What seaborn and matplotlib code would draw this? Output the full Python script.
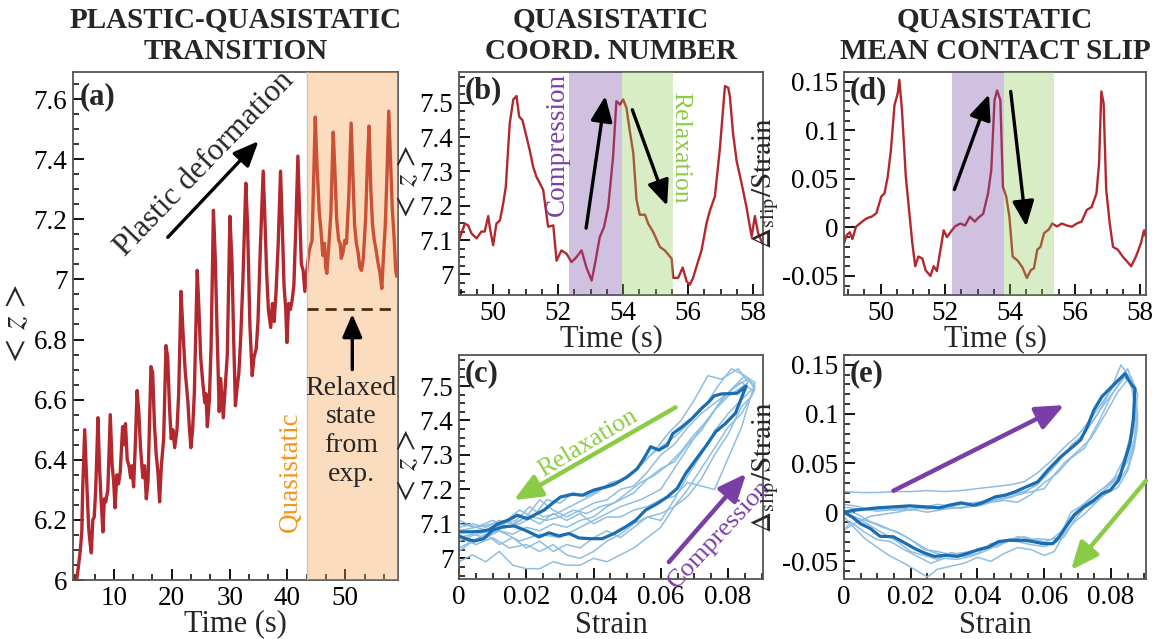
import matplotlib
matplotlib.use('Agg')
import matplotlib.pyplot as plt
import seaborn as sns
from matplotlib.ticker import MultipleLocator, AutoMinorLocator, FuncFormatter

sns.set_style('ticks')
plt.rcParams['font.family'] = ['Liberation Serif', 'DejaVu Serif']
plt.rcParams['mathtext.fontset'] = 'stix'
plt.rcParams['axes.unicode_minus'] = False

# ---- (a) coordination number over the whole run ----
time_a = [3.5, 3.9, 4.2, 4.45, 4.6, 4.95, 5.15, 5.4, 5.65, 5.9,
          6.1, 6.35, 6.6, 6.85, 7.25, 7.5, 7.8, 8.1, 8.35, 8.6,
          8.95, 9.37, 9.7, 9.95, 10.2, 10.5, 10.8, 11.1, 11.5, 11.75,
          12.0, 12.3, 12.6, 12.9, 13.1, 13.4, 13.7, 14.0, 14.3, 14.6,
          15.0, 15.3, 15.6, 15.9, 16.2, 16.4, 16.7, 17.0, 17.3, 17.6,
          17.9, 18.2, 18.6, 19.0, 19.3, 19.6, 19.9, 20.2, 20.5, 20.9,
          21.2, 21.6, 21.9, 22.3, 22.8, 23.0, 23.3, 23.6, 23.9, 24.4,
          24.7, 25.0, 25.3, 25.7, 25.9, 26.15, 26.5, 26.8, 27.2, 27.5,
          27.8, 28.2, 28.45, 28.9, 29.3, 29.6, 30.05, 30.4, 30.7, 31.0,
          31.3, 31.6, 31.9, 32.3, 32.8, 33.1, 33.5, 33.9, 34.2, 34.6,
          34.9, 35.3, 35.8, 36.1, 36.4, 36.7, 37.1, 37.4, 37.7, 38.0,
          38.4, 38.8, 39.1, 39.4, 39.7, 39.9, 40.2, 40.5, 40.8, 41.1,
          41.4, 41.8, 42.1, 42.4, 42.7, 43.0, 43.4, 43.8, 44.25, 44.8,
          45.1, 45.5, 45.8, 46.1, 46.4, 46.6, 46.8, 47.1, 47.5, 47.9,
          48.2, 48.5, 48.85, 49.1, 49.3, 49.6, 49.9, 50.2, 50.6, 51.0,
          51.3, 51.6, 51.9, 52.2, 52.5, 52.8, 53.1, 53.5, 53.8, 54.1,
          54.4, 54.7, 55.0, 55.3, 55.6, 56.0, 56.3, 56.6, 56.9, 57.2,
          57.5, 57.8, 58.1, 58.45, 58.7, 58.9, 59.2]
z_a = [5.99, 6.05, 6.10, 6.16, 6.30, 6.50, 6.40, 6.28, 6.17, 6.12,
       6.09, 6.20, 6.21, 6.30, 6.54, 6.38, 6.26, 6.16, 6.27, 6.26,
       6.30, 6.55, 6.38, 6.33, 6.24, 6.35, 6.32, 6.36, 6.51, 6.45,
       6.52, 6.40, 6.38, 6.34, 6.38, 6.31, 6.45, 6.63, 6.56, 6.44,
       6.34, 6.38, 6.27, 6.33, 6.55, 6.71, 6.69, 6.52, 6.42, 6.36,
       6.26, 6.38, 6.47, 6.78, 6.74, 6.58, 6.47, 6.50, 6.44, 6.50,
       6.62, 6.96, 6.84, 6.70, 6.59, 6.52, 6.44, 6.50, 6.62, 7.03,
       6.90, 6.74, 6.67, 6.59, 6.62, 6.51, 6.60, 6.78, 7.23, 7.08,
       6.85, 6.56, 6.67, 6.54, 6.66, 6.75, 7.21, 7.06, 6.80, 6.58,
       6.64, 6.69, 6.80, 7.00, 7.32, 7.18, 6.85, 6.68, 6.74, 6.77,
       6.86, 7.10, 7.36, 7.20, 7.02, 6.90, 6.84, 6.92, 6.86, 6.95,
       7.12, 7.36, 7.18, 6.98, 6.90, 6.79, 6.92, 6.90, 6.93, 6.98,
       7.15, 7.41, 7.22, 7.05, 7.03, 6.96, 7.04, 7.10, 7.13, 7.54,
       7.38, 7.22, 7.16, 7.08, 7.12, 7.04, 7.02, 7.10, 7.22, 7.49,
       7.36, 7.20, 7.13, 7.12, 7.07, 7.09, 7.13, 7.12, 7.28, 7.52,
       7.35, 7.18, 7.12, 7.09, 7.04, 7.03, 7.07, 7.20, 7.38, 7.51,
       7.30, 7.18, 7.13, 7.10, 7.06, 7.02, 6.97, 7.08, 7.18, 7.35,
       7.56, 7.40, 7.24, 7.13, 7.03, 7.01, 7.05]
quasi_start = 43.3
relaxed_z = 6.9

# ---- (b) coordination number, zoom on quasistatic cycles ----
time_b = [48.95, 49.13, 49.23, 49.33, 49.49, 49.64, 49.74, 49.85, 49.9, 50.0,
          50.1, 50.21, 50.31, 50.39, 50.51, 50.62, 50.72, 50.8, 50.9, 51.03,
          51.13, 51.23, 51.33, 51.44, 51.54, 51.69, 51.85, 51.95, 52.1, 52.26,
          52.41, 52.56, 52.72, 52.87, 53.03, 53.13, 53.28, 53.41, 53.54, 53.69,
          53.79, 53.9, 54.0, 54.1, 54.2, 54.31, 54.41, 54.51, 54.67, 54.77,
          54.92, 55.13, 55.28, 55.49, 55.54, 55.69, 55.83, 55.95, 56.05, 56.15,
          56.31, 56.41, 56.56, 56.67, 56.82, 56.97, 57.13, 57.23, 57.28, 57.38,
          57.49, 57.64, 57.79, 57.95, 58.05, 58.15, 58.31]
z_b = [7.10, 7.148, 7.143, 7.12, 7.105, 7.125, 7.125, 7.17, 7.135, 7.085,
       7.148, 7.158, 7.207, 7.256, 7.44, 7.51, 7.52, 7.46, 7.45, 7.40,
       7.36, 7.314, 7.285, 7.265, 7.246, 7.139, 7.143, 7.04, 7.07, 7.06,
       7.036, 7.05, 7.07, 7.02, 6.982, 7.03, 7.109, 7.138, 7.197, 7.344,
       7.505, 7.495, 7.51, 7.486, 7.42, 7.354, 7.217, 7.174, 7.174, 7.148,
       7.124, 7.08, 7.07, 7.046, 6.99, 6.99, 7.02, 6.98, 6.97, 6.99,
       7.04, 7.07, 7.148, 7.187, 7.227, 7.363, 7.549, 7.544, 7.52, 7.41,
       7.33, 7.266, 7.197, 7.11, 7.17, 7.12, 7.085]
comp_b = (52.34, 53.97)
relax_b = (53.97, 55.52)

# ---- (d) mean contact slip ----
time_d = [48.87, 48.95, 49.05, 49.13, 49.24, 49.36, 49.51, 49.62, 49.72, 49.87,
          50.02, 50.12, 50.22, 50.32, 50.43, 50.53, 50.58, 50.66, 50.78, 50.88,
          50.98, 51.07, 51.17, 51.29, 51.39, 51.54, 51.64, 51.74, 51.85, 51.95,
          52.05, 52.18, 52.3, 52.46, 52.61, 52.76, 52.91, 53.02, 53.17, 53.32,
          53.42, 53.52, 53.6, 53.7, 53.78, 53.88, 53.98, 54.08, 54.23, 54.38,
          54.52, 54.64, 54.74, 54.84, 54.94, 55.05, 55.2, 55.3, 55.45, 55.6,
          55.75, 55.91, 56.06, 56.21, 56.37, 56.52, 56.67, 56.75, 56.82, 56.89,
          56.97, 57.08, 57.18, 57.33, 57.48, 57.64, 57.74, 57.89, 58.04, 58.14,
          58.2]
slip_d = [-0.0165, -0.008, -0.005, -0.012, 0.0007, 0.004, 0.008, 0.010, 0.011, 0.0145,
          0.0316, 0.035, 0.052, 0.0797, 0.126, 0.138, 0.152, 0.121, 0.052, 0.018,
          -0.016, -0.040, -0.030, -0.032, -0.044, -0.050, -0.040, -0.045, -0.023, -0.003,
          -0.010, -0.004, 0.001, 0.004, 0.002, 0.011, 0.006, 0.010, 0.014, 0.035,
          0.059, 0.131, 0.141, 0.131, 0.042, 0.032, 0.011, -0.030, -0.034, -0.041,
          -0.052, -0.044, -0.042, -0.023, -0.020, -0.006, -0.002, 0.004, 0.001, 0.004,
          0.002, 0.0007, 0.004, 0.006, 0.018, 0.021, 0.035, 0.066, 0.140, 0.128,
          0.039, 0.004, -0.020, -0.023, -0.030, -0.036, -0.040, -0.030, -0.0165, -0.003,
          -0.010]
comp_d = (52.2, 53.8)
relax_d = (53.8, 55.37)

# ---- (c) <z> vs strain, single cycles (thin) and mean cycle (thick) ----
c1_strain = [0, .006, .012, .018, .024, .030, .036, .042, .048, .054, .060, .064, .068, .072, .076, .080, .086,
             .083, .078, .074, .070, .066, .062, .058, .054, .050, .046, .042, .038, .034, .030, .026, .022, .018, .014, .010, .005, 0]
c1_z = [7.03, 7.06, 7.08, 7.05, 7.07, 7.06, 7.09, 7.12, 7.15, 7.17, 7.20, 7.26, 7.32, 7.38, 7.43, 7.47, 7.51,
        7.55, 7.52, 7.53, 7.46, 7.40, 7.36, 7.31, 7.27, 7.24, 7.21, 7.20, 7.18, 7.19, 7.16, 7.17, 7.12, 7.14, 7.11, 7.10, 7.09, 7.11]
c2_strain = [0, .004, .008, .012, .016, .020, .024, .028, .032, .036, .040, .044, .048, .052, .056, .060, .064, .068, .072, .076, .080, .084, .088,
             .086, .082, .078, .074, .070, .066, .062, .058, .054, .050, .046, .042, .038, .034, .030, .026, .022, .018, .014, .010, .005, 0]
c2_z = [6.99, 7.01, 6.99, 7.02, 6.98, 6.97, 6.97, 6.99, 6.98, 6.98, 7.00, 6.99, 7.01, 7.03, 7.06, 7.09, 7.15, 7.20, 7.26, 7.32, 7.38, 7.42, 7.49,
        7.52, 7.50, 7.46, 7.40, 7.36, 7.31, 7.27, 7.24, 7.22, 7.19, 7.16, 7.15, 7.13, 7.14, 7.12, 7.11, 7.12, 7.10, 7.09, 7.08, 7.07, 7.05]
c3_strain = [0, .005, .010, .015, .020, .024, .028, .032, .036, .040, .044, .048, .052, .056, .060, .064, .068, .072, .076, .080, .084, .088,
             .085, .081, .077, .073, .069, .065, .061, .057, .053, .049, .045, .041, .037, .033, .029, .025, .021, .017, .013, .009, .005, 0]
c3_z = [7.10, 7.09, 7.11, 7.09, 7.12, 7.10, 7.13, 7.11, 7.13, 7.10, 7.12, 7.12, 7.14, 7.15, 7.17, 7.18, 7.22, 7.21, 7.20, 7.29, 7.38, 7.51,
        7.53, 7.55, 7.50, 7.44, 7.40, 7.36, 7.33, 7.30, 7.26, 7.23, 7.22, 7.19, 7.17, 7.15, 7.13, 7.12, 7.15, 7.11, 7.10, 7.08, 7.09, 7.08]
c4_strain = [0, .004, .008, .012, .016, .020, .024, .028, .032, .036, .040, .044, .048, .052, .056, .060, .064, .068, .072, .076, .080, .084, .087,
             .084, .080, .076, .072, .068, .064, .060, .056, .052, .048, .044, .040, .036, .032, .028, .024, .020, .016, .012, .008, .004, 0]
c4_z = [7.02, 7.05, 7.07, 7.04, 7.06, 7.03, 7.05, 7.02, 7.04, 7.03, 7.06, 7.08, 7.06, 7.09, 7.12, 7.11, 7.17, 7.24, 7.30, 7.37, 7.42, 7.46, 7.49,
        7.51, 7.48, 7.45, 7.42, 7.38, 7.33, 7.30, 7.25, 7.21, 7.20, 7.17, 7.16, 7.14, 7.12, 7.14, 7.17, 7.12, 7.10, 7.11, 7.09, 7.10, 7.09]
c5_strain = [0, .005, .010, .015, .020, .024, .028, .032, .036, .040, .044, .048, .052, .056, .060, .064, .068, .072, .076, .080, .084, .087,
             .088, .085, .080, .076, .072, .068, .064, .060, .056, .052, .048, .044, .040, .036, .032, .028, .024, .020, .016, .012, .008, .004, 0]
c5_z = [7.06, 7.04, 7.06, 7.03, 7.04, 7.02, 7.04, 7.01, 7.00, 7.02, 7.05, 7.07, 7.10, 7.12, 7.13, 7.15, 7.18, 7.23, 7.30, 7.36, 7.44, 7.47,
        7.50, 7.53, 7.48, 7.43, 7.37, 7.33, 7.28, 7.26, 7.23, 7.19, 7.17, 7.15, 7.12, 7.11, 7.09, 7.10, 7.08, 7.09, 7.07, 7.08, 7.06, 7.07, 7.06]
cmean_strain = [0, .002, .0045, .0074, .0099, .0129, .0163, .0193, .0213, .0238, .0267, .0297, .0327, .0357, .0391,
                .0426, .0461, .0495, .0525, .0555, .059, .0619, .0649, .0674, .0703, .0733, .0763, .0792, .0822, .0854,
                .0827, .078, .0758, .0743, .0721, .0693, .0664, .0636, .0619, .0594, .057, .055, .053, .050, .0466,
                .0436, .0401, .0367, .0337, .0302, .0277, .0253, .0233, .0203, .0173, .0149, .0114, .0089, .0069, .004, 0]
cmean_z = [7.065, 7.057, 7.05, 7.057, 7.081, 7.091, 7.094, 7.083, 7.074, 7.062, 7.074, 7.065, 7.072, 7.059, 7.057,
           7.057, 7.072, 7.091, 7.11, 7.14, 7.159, 7.178, 7.203, 7.246, 7.285, 7.324, 7.367, 7.391, 7.421, 7.5,
           7.479, 7.477, 7.471, 7.454, 7.435, 7.406, 7.382, 7.362, 7.328, 7.314, 7.324, 7.29, 7.26, 7.236, 7.217,
           7.207, 7.198, 7.183, 7.186, 7.178, 7.159, 7.14, 7.13, 7.115, 7.125, 7.112, 7.099, 7.083, 7.079, 7.077, 7.077]

# ---- (e) slip vs strain ----
e1_strain = [0, .005, .010, .015, .020, .025, .030, .035, .040, .045, .050, .054, .058, .062, .066, .070, .074, .078, .082, .085,
             .087, .088, .087, .085, .082, .078, .074, .070, .067, .064, .060, .056, .052, .048, .044, .040, .036, .032, .028, .024, .020, .016, .012, .008, .004, 0]
e1_slip = [.021, .020, .020, .021, .021, .022, .021, .022, .024, .026, .028, .031, .040, .052, .066, .078, .095, .115, .133, .146,
           .128, .100, .075, .052, .035, .022, .010, .000, -.012, -.026, -.030, -.027, -.025, -.031, -.035, -.038, -.044, -.041, -.048, -.044, -.040, -.030, -.022, -.014, -.006, 0]
e2_strain = [0, .005, .010, .015, .020, .025, .030, .035, .040, .045, .050, .054, .058, .062, .066, .070, .074, .078, .082, .084,
             .086, .087, .086, .084, .081, .078, .074, .071, .068, .065, .062, .058, .054, .050, .046, .042, .038, .034, .030, .026, .022, .018, .014, .010, .006, .002, 0]
e2_slip = [.005, .003, .004, .002, .003, .005, .004, .008, .010, .014, .018, .021, .028, .045, .060, .070, .090, .110, .128, .137,
           .132, .110, .080, .055, .035, .025, .015, .006, -.005, -.020, -.028, -.027, -.029, -.027, -.033, -.040, -.045, -.048, -.047, -.052, -.045, -.038, -.030, -.028, -.020, -.010, -.018]
e3_strain = [0, .004, .008, .012, .016, .020, .025, .030, .035, .040, .045, .050, .055, .060, .064, .068, .072, .076, .080, .083,
             .085, .087, .088, .087, .085, .082, .078, .075, .072, .069, .066, .063, .060, .056, .052, .048, .044, .040, .036, .032, .028, .025, .022, .018, .014, .010, .006, .002, 0]
e3_slip = [-.018, -.010, -.004, -.002, .000, .003, .000, .003, .005, .008, .012, .015, .022, .035, .050, .068, .080, .100, .125, .150,
           .140, .118, .090, .065, .042, .025, .018, .008, -.002, -.010, -.022, -.040, -.044, -.038, -.036, -.042, -.050, -.046, -.052, -.055, -.058, -.066, -.060, -.052, -.045, -.036, -.026, -.012, -.005]
e4_strain = [0, .004, .008, .012, .016, .020, .024, .028, .032, .036, .040, .044, .048, .052, .056, .060, .064, .068, .072, .076, .080, .084, .086,
             .088, .087, .085, .083, .080, .076, .072, .068, .066, .064, .060, .056, .052, .048, .044, .040, .036, .032, .028, .024, .020, .016, .012, .008, .004, 0]
e4_slip = [.008, .006, .002, .004, .006, .002, .005, .008, .006, .009, .006, .010, .012, .010, .018, .030, .040, .055, .065, .090, .118, .140, .138,
           .120, .085, .060, .040, .030, .020, .008, .000, -.015, -.030, -.035, -.033, -.030, -.029, -.032, -.042, -.045, -.043, -.040, -.038, -.028, -.020, -.016, -.010, -.002, .002]
e5_strain = [0, .005, .010, .015, .020, .025, .030, .035, .040, .045, .050, .055, .060, .063, .066, .070, .074, .078, .082, .085,
             .087, .088, .087, .085, .082, .079, .076, .072, .069, .066, .062, .058, .054, .050, .046, .042, .038, .034, .030, .026, .022, .018, .014, .010, .006, .002, 0]
e5_slip = [-.002, .004, .001, .003, .006, .003, .006, .004, .007, .012, .016, .020, .024, .038, .050, .062, .075, .098, .122, .135,
           .125, .095, .070, .045, .030, .020, .012, .004, -.008, -.025, -.032, -.030, -.025, -.028, -.035, -.038, -.040, -.042, -.044, -.040, -.032, -.024, -.018, -.012, -.008, -.004, 0]
emean_strain = [0, .003, .0059, .0099, .0148, .0197, .0246, .0286, .0315, .035, .0389, .0414, .0453, .0483, .0512,
                .0547, .0581, .0611, .065, .068, .0709, .0729, .0749, .0773, .0803, .0842,
                .0862, .0872, .0867, .0857, .0842, .0823, .0798, .0773, .0749, .0719, .069, .0665, .0645, .0626,
                .0596, .0567, .0542, .0493, .0463, .0433, .0404, .0374, .034, .0305, .0271, .0241, .0212, .0182,
                .0148, .0108, .0079, .0049, .0025, 0]
emean_slip = [0, .002, .003, .0044, .0054, .0065, .0054, .0044, .0071, .0095, .0071, .0095, .0156, .0173, .0207,
              .0259, .031, .0429, .0565, .065, .0735, .087, .104, .1177, .128, .141,
              .1296, .126, .094, .070, .053, .0327, .0224, .019, .0122, .0054, -.003, -.015, -.025, -.032,
              -.032, -.030, -.0286, -.0286, -.030, -.0354, -.038, -.0415, -.045, -.0439, -.045, -.0415, -.037, -.0313,
              -.025, -.0245, -.0167, -.0116, -.005, 0]

RED = '#B2282E'
THIN = '#8EBEE3'
THICK = '#1C6DB0'
PURPLE = '#7A3FA6'
GREEN = '#8CCB45'
ORANGE = '#F7941D'

fmt = FuncFormatter(lambda v, p: f'{round(v, 6) + 0:g}')


def style(ax, xmaj, xminor, ymaj, yminor):
    ax.xaxis.set_major_locator(MultipleLocator(xmaj))
    ax.xaxis.set_minor_locator(AutoMinorLocator(xminor))
    ax.yaxis.set_major_locator(MultipleLocator(ymaj))
    ax.yaxis.set_minor_locator(AutoMinorLocator(yminor))
    ax.xaxis.set_major_formatter(fmt)
    ax.yaxis.set_major_formatter(fmt)
    ax.tick_params(which='both', direction='in', top=False, right=False,
                   labelsize=19.5, colors='black')
    ax.tick_params(which='major', length=8, width=1.3, pad=4)
    ax.tick_params(which='minor', length=4.5, width=1.1)
    for sp in ax.spines.values():
        sp.set_color('#555555')
        sp.set_linewidth(1.3)


def arrow(ax, tail, head, color, lw=2.4, ms=22):
    ax.annotate('', xy=head, xytext=tail, annotation_clip=False, zorder=6,
                arrowprops=dict(arrowstyle='-|>,head_length=0.7,head_width=0.3',
                                color=color, lw=lw, mutation_scale=ms,
                                shrinkA=0, shrinkB=0))


def panel_letter(ax, s):
    ax.text(0.02, 0.98, s, transform=ax.transAxes, ha='left', va='top',
            fontsize=22, fontweight='bold', zorder=7)


W, H = 1152, 639
fig = plt.figure(figsize=(W / 100, H / 100), dpi=100)
ax_a = fig.add_axes([73 / W, 59 / H, 325 / W, 508 / H])
ax_b = fig.add_axes([459 / W, 344 / H, 304 / W, 223 / H])
ax_c = fig.add_axes([459 / W, 60 / H, 304 / W, 224 / H])
ax_d = fig.add_axes([844 / W, 344 / H, 302 / W, 223 / H])
ax_e = fig.add_axes([844 / W, 60 / H, 302 / W, 224 / H])

# (a)
sns.lineplot(x=time_a, y=z_a, ax=ax_a, color=RED, lw=2.4, zorder=2)
ax_a.axvspan(quasi_start, 60, color='#F99B45', alpha=0.35, lw=0, zorder=3)
ax_a.axvline(quasi_start, color='#C8C8C8', lw=1.0, zorder=3)
ax_a.plot([quasi_start, 60], [relaxed_z, relaxed_z], color='#4A2A12', lw=2,
          ls=(0, (4, 2.5)), zorder=4)
ax_a.set_xlim(2.93, 59.1)
ax_a.set_ylim(6.0, 7.69)
style(ax_a, 10, 3, 0.2, 4)
ax_a.set_xlabel('Time (s)', fontsize=22, labelpad=-1)
ax_a.set_ylabel(r'$<\,z\,>$', fontsize=25, labelpad=0)
panel_letter(ax_a, '(a)')
arrow(ax_a, (19.3, 7.14), (35.0, 7.46), 'black')
ax_a.text(25.7, 7.385, 'Plastic deformation', rotation=46, rotation_mode='anchor',
          ha='center', va='center', fontsize=22.5, zorder=6)
arrow(ax_a, (51.2, 6.70), (51.2, 6.885), 'black', lw=2.4, ms=20)
ax_a.text(51.0, 6.495, 'Relaxed\nstate\nfrom\nexp.', ha='center', va='center',
          fontsize=20, linespacing=1.2, zorder=6)
ax_a.text(40.5, 6.36, 'Quasistatic', rotation=90, ha='center', va='center',
          fontsize=19.5, color=ORANGE, zorder=6)

# (b)
sns.lineplot(x=time_b, y=z_b, ax=ax_b, color=RED, lw=1.7, zorder=2)
ax_b.axvspan(*comp_b, color='#7B4FA8', alpha=0.35, lw=0, zorder=3)
ax_b.axvspan(*relax_b, color='#86C850', alpha=0.32, lw=0, zorder=3)
ax_b.set_xlim(48.95, 58.3)
ax_b.set_ylim(6.94, 7.59)
style(ax_b, 2, 4, 0.1, 4)
ax_b.set_xlabel('Time (s)', fontsize=22, labelpad=-1)
ax_b.set_ylabel(r'$<\,z\,>$', fontsize=23, labelpad=-2)
panel_letter(ax_b, '(b)')
arrow(ax_b, (52.86, 7.135), (53.45, 7.52), 'black')
arrow(ax_b, (54.28, 7.48), (55.35, 7.20), 'black')
ax_b.text(51.97, 7.38, 'Compression', rotation=90, ha='center', va='center',
          fontsize=19.5, color=PURPLE, zorder=6)
ax_b.text(55.75, 7.37, 'Relaxation', rotation=270, ha='center', va='center',
          fontsize=18.5, color=GREEN, zorder=6)

# (c)
for xs, ys in [(c1_strain, c1_z), (c2_strain, c2_z), (c3_strain, c3_z),
               (c4_strain, c4_z), (c5_strain, c5_z)]:
    sns.lineplot(x=xs, y=ys, ax=ax_c, sort=False, estimator=None, color=THIN, lw=1.1)
sns.lineplot(x=cmean_strain, y=cmean_z, ax=ax_c, sort=False, estimator=None,
             color=THICK, lw=2.3)
ax_c.set_xlim(0, 0.0904)
ax_c.set_ylim(6.94, 7.59)
style(ax_c, 0.02, 4, 0.1, 4)
ax_c.set_xlabel('Strain', fontsize=22, labelpad=1)
ax_c.set_ylabel(r'$<\,z\,>$', fontsize=23, labelpad=-2)
panel_letter(ax_c, '(c)')
arrow(ax_c, (0.0644, 7.438), (0.0163, 7.169), GREEN, lw=3.2, ms=24)
ax_c.text(0.0384, 7.333, 'Relaxation', rotation=31, rotation_mode='anchor',
          ha='center', va='center', fontsize=18.5, color=GREEN, zorder=6)
arrow(ax_c, (0.0624, 6.989), (0.0854, 7.246), PURPLE, lw=3.2, ms=24)
ax_c.text(0.0775, 7.068, 'Compression', rotation=47, rotation_mode='anchor',
          ha='center', va='center', fontsize=19, color=PURPLE, zorder=6)

# (d)
sns.lineplot(x=time_d, y=slip_d, ax=ax_d, color=RED, lw=1.7, zorder=2)
ax_d.axvspan(*comp_d, color='#7B4FA8', alpha=0.35, lw=0, zorder=3)
ax_d.axvspan(*relax_d, color='#86C850', alpha=0.32, lw=0, zorder=3)
ax_d.set_xlim(48.87, 58.2)
ax_d.set_ylim(-0.0696, 0.16)
style(ax_d, 2, 4, 0.05, 5)
ax_d.set_xlabel('Time (s)', fontsize=22, labelpad=-1)
ax_d.set_ylabel(r'$\Delta_{\rm slip}/\mathrm{Strain}$', fontsize=21, labelpad=1)
panel_letter(ax_d, '(d)')
arrow(ax_d, (52.28, 0.039), (53.35, 0.137), 'black')
arrow(ax_d, (54.02, 0.140), (54.5, 0.001), 'black')

# (e)
for xs, ys in [(e1_strain, e1_slip), (e2_strain, e2_slip), (e3_strain, e3_slip),
               (e4_strain, e4_slip), (e5_strain, e5_slip)]:
    sns.lineplot(x=xs, y=ys, ax=ax_e, sort=False, estimator=None, color=THIN, lw=1.1)
sns.lineplot(x=emean_strain, y=emean_slip, ax=ax_e, sort=False, estimator=None,
             color=THICK, lw=2.3)
ax_e.set_xlim(0, 0.0905)
ax_e.set_ylim(-0.068, 0.16)
style(ax_e, 0.02, 4, 0.05, 5)
ax_e.set_xlabel('Strain', fontsize=22, labelpad=1)
ax_e.set_ylabel(r'$\Delta_{\rm slip}/\mathrm{Strain}$', fontsize=21, labelpad=1)
panel_letter(ax_e, '(e)')
arrow(ax_e, (0.0148, 0.0218), (0.066, 0.109), PURPLE, lw=3.2, ms=24)
arrow(ax_e, (0.0905, 0.032), (0.068, -0.059), GREEN, lw=3.2, ms=24)

# column titles
for ax, title in [(ax_a, 'PLASTIC-QUASISTATIC\nTRANSITION'),
                  (ax_b, 'QUASISTATIC\nCOORD. NUMBER'),
                  (ax_d, 'QUASISTATIC\nMEAN CONTACT SLIP')]:
    pos = ax.get_position()
    fig.text((pos.x0 + pos.x1) / 2, 1 - 36 / H, title, ha='center', va='center',
             fontsize=21, fontweight='bold', linespacing=1.2)

fig.savefig('out.png', dpi=100)
